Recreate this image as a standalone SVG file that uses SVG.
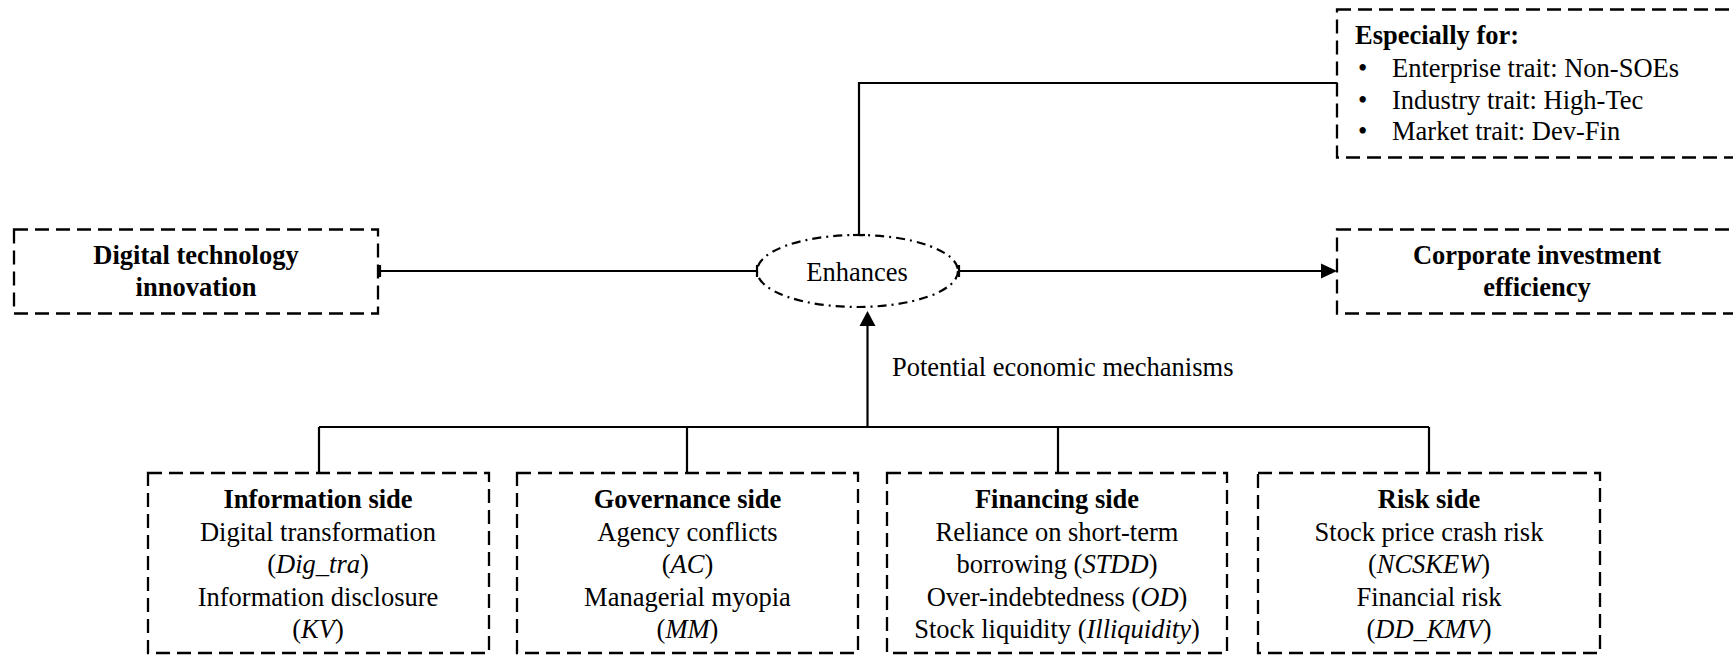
<svg xmlns="http://www.w3.org/2000/svg" width="1733" height="655" viewBox="0 0 1733 655" font-family="'Liberation Serif', 'Times New Roman', Times, serif">
<defs>
<style>
.box{fill:none;stroke:#000;stroke-width:2.3;stroke-dasharray:14 7;}
.ell{fill:none;stroke:#000;stroke-width:2.2;stroke-dasharray:9 5 2 5;}
.ln{fill:none;stroke:#000;stroke-width:2.2;}
.t{font-family:'Liberation Serif', 'Times New Roman', Times, serif;font-size:26.5px;fill:#000;}
.c{text-anchor:middle;}
.b{font-weight:bold;}
.i{font-style:italic;}
</style>
</defs>
<rect width="1733" height="655" fill="#fff"/>
<g id="connectors">
<line class="ln" x1="380" y1="271" x2="757" y2="271"/>
<line class="ln" x1="380" y1="265" x2="380" y2="277"/>
<line class="ln" x1="757" y1="265" x2="757" y2="277"/>
<line class="ln" x1="959" y1="271" x2="1323" y2="271"/>
<line class="ln" x1="959" y1="265" x2="959" y2="277"/>
<polygon points="1337,271 1321,263.5 1321,278.5" fill="#000"/>
<polyline class="ln" points="859,235 859,83 1337,83"/>
<line class="ln" x1="853" y1="235" x2="865" y2="235"/>
<line class="ln" x1="319" y1="427" x2="1429" y2="427"/>
<line class="ln" x1="319" y1="427" x2="319" y2="473"/>
<line class="ln" x1="687" y1="427" x2="687" y2="473"/>
<line class="ln" x1="1058" y1="427" x2="1058" y2="473"/>
<line class="ln" x1="1429" y1="427" x2="1429" y2="473"/>
<line class="ln" x1="867.5" y1="427" x2="867.5" y2="324"/>
<polygon points="867.5,311 859.5,326 875.5,326" fill="#000"/>
<text class="t" x="892" y="376">Potential economic mechanisms</text>
</g>
<g id="dti">
<rect class="box" x="14" y="229.5" width="364" height="84"/>
<text class="t c b" x="196" y="264">Digital technology</text>
<text class="t c b" x="196" y="296">innovation</text>
</g>
<g id="enhances">
<ellipse class="ell" cx="857.5" cy="271" rx="100.5" ry="36"/>
<text class="t c" x="857" y="281">Enhances</text>
</g>
<g id="cie">
<rect class="box" x="1337" y="229.5" width="410" height="84"/>
<text class="t c b" x="1537" y="264">Corporate investment</text>
<text class="t c b" x="1537" y="296">efficiency</text>
</g>
<g id="especially">
<rect class="box" x="1337" y="9.5" width="410" height="148"/>
<text class="t b" x="1355" y="44">Especially for:</text>
<text class="t" x="1358" y="77">•</text>
<text class="t" x="1392" y="77">Enterprise trait: Non-SOEs</text>
<text class="t" x="1358" y="108.5">•</text>
<text class="t" x="1392" y="108.5">Industry trait: High-Tec</text>
<text class="t" x="1358" y="140">•</text>
<text class="t" x="1392" y="140">Market trait: Dev-Fin</text>
</g>
<g id="information">
<rect class="box" x="148" y="473" width="341" height="180"/>
<text class="t c b" x="318" y="508">Information side</text>
<text class="t c" x="318" y="540.5">Digital transformation</text>
<text class="t c" x="318" y="573">(<tspan class="i">Dig_tra</tspan>)</text>
<text class="t c" x="318" y="605.5">Information disclosure</text>
<text class="t c" x="318" y="638">(<tspan class="i">KV</tspan>)</text>
</g>
<g id="governance">
<rect class="box" x="517" y="473" width="341" height="180"/>
<text class="t c b" x="687.5" y="508">Governance side</text>
<text class="t c" x="687.5" y="540.5">Agency conflicts</text>
<text class="t c" x="687.5" y="573">(<tspan class="i">AC</tspan>)</text>
<text class="t c" x="687.5" y="605.5">Managerial myopia</text>
<text class="t c" x="687.5" y="638">(<tspan class="i">MM</tspan>)</text>
</g>
<g id="financing">
<rect class="box" x="887" y="473" width="340" height="180"/>
<text class="t c b" x="1057" y="508">Financing side</text>
<text class="t c" x="1057" y="540.5">Reliance on short-term</text>
<text class="t c" x="1057" y="573">borrowing (<tspan class="i">STDD</tspan>)</text>
<text class="t c" x="1057" y="605.5">Over-indebtedness (<tspan class="i">OD</tspan>)</text>
<text class="t c" x="1057" y="638">Stock liquidity (<tspan class="i">Illiquidity</tspan>)</text>
</g>
<g id="risk">
<rect class="box" x="1258" y="473" width="342" height="180"/>
<text class="t c b" x="1429" y="508">Risk side</text>
<text class="t c" x="1429" y="540.5">Stock price crash risk</text>
<text class="t c" x="1429" y="573">(<tspan class="i">NCSKEW</tspan>)</text>
<text class="t c" x="1429" y="605.5">Financial risk</text>
<text class="t c" x="1429" y="638">(<tspan class="i">DD_KMV</tspan>)</text>
</g>
</svg>
